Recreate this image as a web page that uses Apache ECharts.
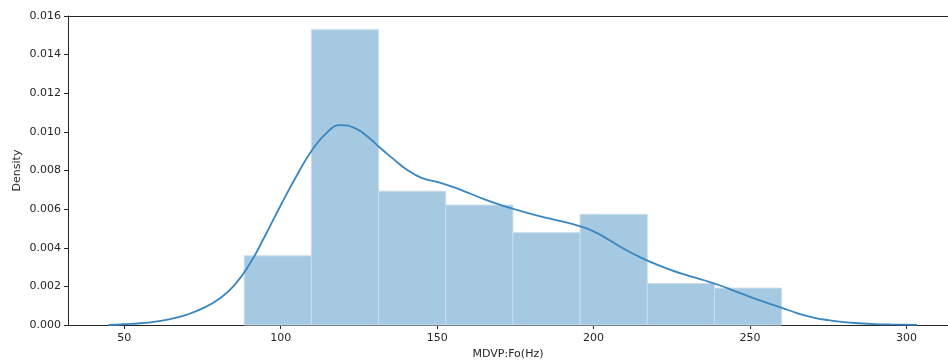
<!DOCTYPE html>
<html>
<head>
<meta charset="utf-8">
<script src="https://cdn.jsdelivr.net/npm/echarts@6/dist/echarts.min.js"></script>
<style>
  html, body { margin: 0; padding: 0; background: #fff; }
  #main { width: 948px; height: 361px; }
</style>
</head>
<body>
<div id="main"></div>
<script>
  // histogram bins (MDVP:Fo in Hz) and their densities
  var binEdges = [88.33, 109.80, 131.28, 152.75, 174.22, 195.69, 217.16, 238.63, 260.11];
  var binDensity = [0.00358, 0.01529, 0.00693, 0.00621, 0.00478, 0.00573, 0.00215, 0.00191];

  // kde curve
  var kdeX = [44.9, 50, 55, 60, 65, 70, 75, 80, 85, 90, 95, 100, 105, 110, 115, 119, 124, 128, 132, 136,
    140, 145, 150, 155, 160, 165, 170, 175, 180, 185, 190, 195, 200, 205, 210, 215, 220, 225, 230, 235,
    240, 245, 250, 255, 260, 265, 270, 275, 280, 285, 290, 295, 303.4];
  var kdeY = [0.00000, 0.00004, 0.00009, 0.00018, 0.00032, 0.00054, 0.00086, 0.00132, 0.00203, 0.00314,
    0.00462, 0.00620, 0.00770, 0.00905, 0.01000, 0.01035, 0.01017, 0.00972, 0.00914, 0.00860,
    0.00808, 0.00762, 0.00741, 0.00715, 0.00684, 0.00652, 0.00623, 0.00598, 0.00575, 0.00555,
    0.00536, 0.00515, 0.00485, 0.00440, 0.00392, 0.00350, 0.00314, 0.00283, 0.00257, 0.00233,
    0.00207, 0.00177, 0.00146, 0.00117, 0.00090, 0.00062, 0.00040, 0.00025, 0.00015, 0.00009,
    0.00005, 0.00003, 0.00001];

  var xTicks = [50, 100, 150, 200, 250, 300];

  var bars = [];
  for (var i = 0; i < binDensity.length; i++) {
    bars.push([binEdges[i], binEdges[i + 1], binDensity[i]]);
  }
  var curve = kdeX.map(function (x, i) { return [x, kdeY[i]]; });

  var chart = echarts.init(document.getElementById('main'), null, { renderer: 'canvas' });
  var txt = '#262626';
  var font = { color: txt, fontSize: 11, fontFamily: 'DejaVu Sans' };
  var option = {
    animation: false,
    backgroundColor: '#fff',
    grid: { left: 68, right: 0, top: 16, bottom: 36, show: false, outerBoundsMode: 'none', containLabel: false },
    xAxis: [{
      type: 'value',
      min: 32, max: 313.3,
      name: 'MDVP:Fo(Hz)',
      nameLocation: 'middle',
      nameGap: 24,
      nameMoveOverlap: false,
      nameTextStyle: font,
      splitLine: { show: false },
      axisLine: { show: true, lineStyle: { color: '#262626', width: 1 } },
      axisTick: { show: true, length: 4, customValues: xTicks, lineStyle: { color: '#262626' } },
      axisLabel: Object.assign({ customValues: xTicks, margin: 8 }, font)
    }, {
      // top spine only
      type: 'value',
      position: 'top',
      min: 32, max: 313.3,
      splitLine: { show: false },
      axisLine: { show: true, lineStyle: { color: '#262626', width: 1 } },
      axisTick: { show: false },
      axisLabel: { show: false }
    }],
    yAxis: {
      type: 'value',
      min: 0, max: 0.016, interval: 0.002,
      name: 'Density',
      nameLocation: 'middle',
      nameGap: 45,
      nameMoveOverlap: false,
      nameTextStyle: font,
      splitLine: { show: false },
      axisLine: { show: true, lineStyle: { color: '#262626', width: 1 } },
      axisTick: { show: true, length: 4, lineStyle: { color: '#262626' } },
      axisLabel: Object.assign({
        margin: 7,
        formatter: function (v) { return v.toFixed(3); }
      }, font)
    },
    series: [
      {
        type: 'custom',
        data: bars,
        encode: { x: [0, 1], y: 2 },
        renderItem: function (params, api) {
          var p0 = api.coord([api.value(0), api.value(2)]);
          var p1 = api.coord([api.value(1), 0]);
          return {
            type: 'rect',
            shape: { x: p0[0], y: p0[1], width: p1[0] - p0[0], height: p1[1] - p0[1] },
            style: { fill: '#a5c9e1', stroke: '#c9dded', lineWidth: 1 }
          };
        },
        z: 1
      },
      {
        type: 'line',
        data: curve,
        smooth: 0.5,
        showSymbol: false,
        lineStyle: { color: '#3a86bf', width: 1.8 },
        z: 3
      }
    ]
  };
  chart.setOption(option);
</script>
</body>
</html>
